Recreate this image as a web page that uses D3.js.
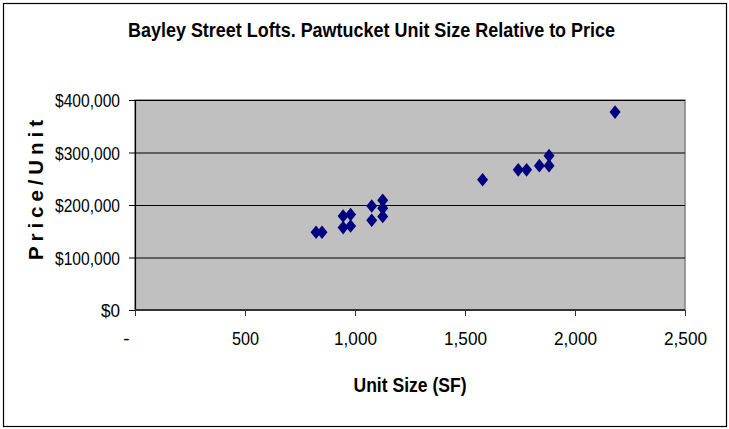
<!DOCTYPE html>
<html><head><meta charset="utf-8">
<script src="https://cdn.jsdelivr.net/npm/d3@7"></script>
<style>body{margin:0;background:#fff}svg{display:block}</style>
</head><body>
<svg id="c" width="729" height="429"></svg>
<script>
const unitSize = [823, 850, 946, 980, 946, 980, 1076, 1076, 1126, 1126, 1126, 1580, 1742, 1780, 1838, 1882, 1882, 2182];
const pricePerUnit = [148000, 148000, 179000, 182000, 157000, 160000, 198000, 171000, 209000, 194000, 178000, 248000, 267000, 267000, 275000, 294000, 275000, 377000];
const xTicks = [0, 500, 1000, 1500, 2000, 2500];
const yTicks = [0, 100000, 200000, 300000, 400000];
const titleText = "Bayley Street Lofts. Pawtucket Unit Size Relative to Price";
const xTitle = "Unit Size (SF)";
const yTitle = "Price/Unit";

const svg = d3.select("#c");
const font = "'Liberation Sans Narrow','Arial Narrow','Liberation Sans',Arial,sans-serif";
const L = 135, R = 685, T = 100, B = 310;
const x = d3.scaleLinear().domain([0, 2500]).range([L, R]);
const y = d3.scaleLinear().domain([0, 400000]).range([B, T]);

svg.append("rect").attr("x", 3.5).attr("y", 3.5).attr("width", 723).attr("height", 423)
  .attr("fill", "#fff").attr("stroke", "#000").attr("stroke-width", 1.2);

svg.append("rect").attr("x", L).attr("y", T).attr("width", R - L).attr("height", B - T)
  .attr("fill", "#c0c0c0").attr("stroke", "#808080").attr("stroke-width", 1.5);

svg.append("g").selectAll("line").data(yTicks.filter(d => d > 0)).join("line")
  .attr("x1", L).attr("x2", R).attr("y1", d => y(d) + 0.5).attr("y2", d => y(d) + 0.5)
  .attr("stroke", "#000").attr("stroke-width", 1);

const fmtY = d => "$" + d3.format(",")(d);
const fmtX = d => d === 0 ? "-" : d3.format(",")(d);

const ya = svg.append("g").attr("transform", `translate(${L},0)`)
  .call(d3.axisLeft(y).tickValues(yTicks).tickFormat(fmtY).tickSize(6).tickPadding(9));
const xa = svg.append("g").attr("transform", `translate(0,${B})`)
  .call(d3.axisBottom(x).tickValues(xTicks).tickFormat(fmtX).tickSize(6).tickPadding(16));
[ya, xa].forEach(g => {
  g.selectAll("text").attr("font-family", font).attr("font-size", 19).attr("fill", "#000");
  g.selectAll(".tick line").attr("stroke", "#000");
});
ya.select(".domain").attr("stroke", "#000").attr("stroke-width", 1.2).attr("d", `M0.5,${T}V${B}`);
xa.select(".domain").attr("stroke", "#333").attr("stroke-width", 2).attr("d", `M${L},0H${R}`);
xa.selectAll(".tick line").attr("stroke", "#333");

// condense tick labels to match the narrow face of the reference
ya.selectAll(".tick text").attr("dy", "0.36em").each(function(d) {
  const s = fmtY(d);
  d3.select(this).attr("textLength", s.length === 2 ? 19 : 65).attr("lengthAdjust", "spacingAndGlyphs");
});
xa.selectAll(".tick text").each(function(d) {
  const s = fmtX(d);
  const t = d3.select(this);
  if (s === "-") { t.attr("dx", -9); return; }
  t.attr("textLength", s.length === 3 ? 27 : 43).attr("lengthAdjust", "spacingAndGlyphs");
});

const pts = unitSize.map((d, i) => ({ sf: d, p: pricePerUnit[i] }));
const w = 5.5, h = 6.8;
svg.append("g").selectAll("path").data(pts).join("path")
  .attr("d", d => `M${x(d.sf)},${y(d.p) - h}L${x(d.sf) + w},${y(d.p)}L${x(d.sf)},${y(d.p) + h}L${x(d.sf) - w},${y(d.p)}Z`)
  .attr("fill", "#000080");

svg.append("text").attr("x", 371.5).attr("y", 37).attr("text-anchor", "middle")
  .attr("font-family", font).attr("font-weight", "bold").attr("font-size", 19.5)
  .attr("textLength", 487).attr("lengthAdjust", "spacingAndGlyphs").text(titleText);

svg.append("text").attr("x", 410).attr("y", 392).attr("text-anchor", "middle")
  .attr("font-family", font).attr("font-weight", "bold").attr("font-size", 20.5)
  .attr("textLength", 113).attr("lengthAdjust", "spacingAndGlyphs").text(xTitle);

svg.append("text").attr("transform", "translate(43,190) rotate(-90)").attr("text-anchor", "middle")
  .attr("font-family", font).attr("font-weight", "bold").attr("font-size", 20.5)
  .attr("textLength", 140).attr("lengthAdjust", "spacing").text(yTitle);
</script>
</body></html>
